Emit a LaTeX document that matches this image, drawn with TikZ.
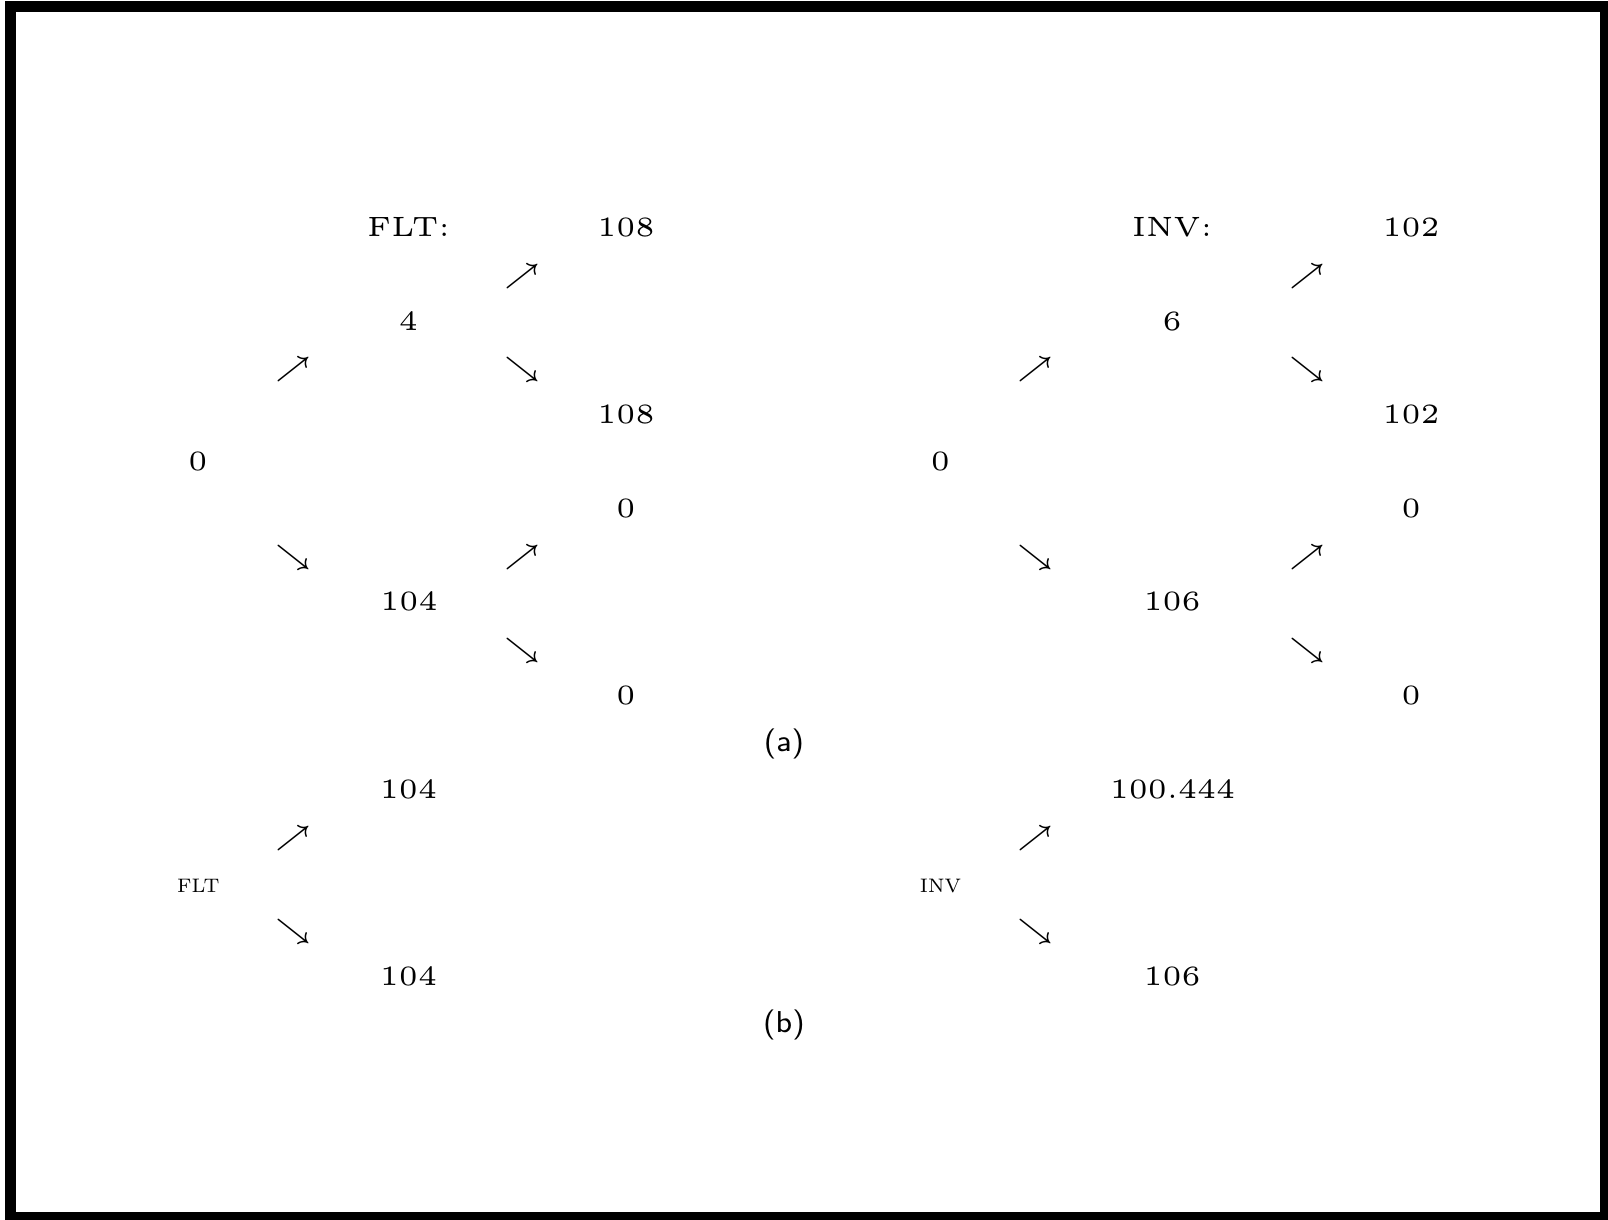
\documentclass[tikz,border=0pt]{standalone}
\begin{document}
\begin{tikzpicture}[x=0.17889pt,y=-0.17889pt,
  val/.style={anchor=base,inner sep=0pt,font=\fontsize{5}{6}\selectfont},
  arr/.style={anchor=base,inner sep=0pt,font=\fontsize{5}{6}\selectfont},
  sc/.style={anchor=base,inner sep=0pt},
  capt/.style={anchor=base,inner sep=0pt,font=\fontsize{5.4}{6.4}\selectfont\sffamily}]
\newcommand{\smalllabel}[1]{\scalebox{0.5}{\fontsize{7}{8}\selectfont #1}}
\useasboundingbox (0,0) rectangle (1608,1219);
\draw[line width=1.968pt] (10.5,6.5) rectangle (1605,1217.5);

% (a) left tree: FLT
\node[val] (flt) at (408.5,236.5) {FLT:};
\node[val] (l108a) at (626,236.5) {108};
\node[arr] (la1) at (522.5,283.3) {$\nearrow$};
\node[val] (l4) at (408.5,330.1) {4};
\node[arr] (la2) at (293.5,376.9) {$\nearrow$};
\node[arr] (la3) at (522.5,376.9) {$\searrow$};
\node[val] (l108b) at (626,423.7) {108};
\node[val] (l0) at (198,470.5) {0};
\node[val] (l0a) at (626,517.3) {0};
\node[arr] (la4) at (293.5,564.1) {$\searrow$};
\node[arr] (la5) at (522.5,564.1) {$\nearrow$};
\node[val] (l104) at (409,610.9) {104};
\node[arr] (la6) at (522.5,657.7) {$\searrow$};
\node[val] (l0b) at (626,704.5) {0};

% (a) right tree: INV
\node[val] (inv) at (1172.2,236.5) {INV:};
\node[val] (r102a) at (1411.2,236.5) {102};
\node[arr] (ra1) at (1307.5,283.3) {$\nearrow$};
\node[val] (r6) at (1172.2,330.1) {6};
\node[arr] (ra2) at (1035.8,376.9) {$\nearrow$};
\node[arr] (ra3) at (1307.5,376.9) {$\searrow$};
\node[val] (r102b) at (1411.2,423.7) {102};
\node[val] (r0) at (940.4,470.5) {0};
\node[val] (r0a) at (1411.2,517.3) {0};
\node[arr] (ra4) at (1035.8,564.1) {$\searrow$};
\node[arr] (ra5) at (1307.5,564.1) {$\nearrow$};
\node[val] (r106) at (1172.2,610.9) {106};
\node[arr] (ra6) at (1307.5,657.7) {$\searrow$};
\node[val] (r0b) at (1411.2,704.5) {0};

\node[capt] (capa) at (784,751.8) {(a)};

% (b) one-step trees
\node[val] (bl104a) at (408.5,798.3) {104};
\node[arr] (bla1) at (293.5,845.1) {$\nearrow$};
\node[sc] (blflt) at (198.4,892.3) {\smalllabel{FLT}};
\node[arr] (bla2) at (293.5,938.7) {$\searrow$};
\node[val] (bl104b) at (408.5,985.5) {104};

\node[val] (br100) at (1172.5,798.3) {100.444};
\node[arr] (bra1) at (1035.5,845.1) {$\nearrow$};
\node[sc] (brinv) at (940.5,892.3) {\smalllabel{INV}};
\node[arr] (bra2) at (1035.5,938.7) {$\searrow$};
\node[val] (br106) at (1172.2,985.5) {106};

\node[capt] (capb) at (784,1032) {(b)};
\end{tikzpicture}
\end{document}
